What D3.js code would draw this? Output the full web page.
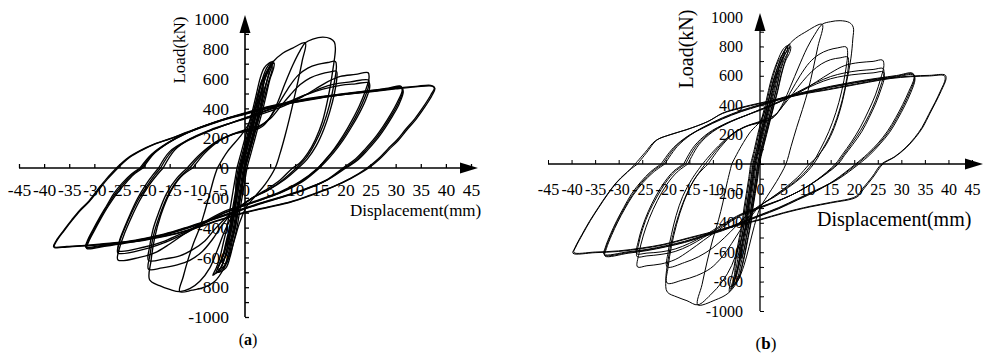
<!DOCTYPE html>
<html>
<head>
<meta charset="utf-8">
<script src="https://cdn.jsdelivr.net/npm/d3@7"></script>
<style>
  html, body { margin: 0; padding: 0; background: #fff; }
  svg { display: block; }
  svg text { font-family: "Liberation Serif", "Times New Roman", serif; fill: #000; }
</style>
</head>
<body>
<svg id="chart" width="985" height="355"></svg>
<script>
// ---- axis ticks ----
const xTickValues = [-45, -40, -35, -30, -25, -20, -15, -10, -5, 0, 5, 10, 15, 20, 25, 30, 35, 40, 45];
const yTickValues = [-1000, -800, -600, -400, -200, 0, 200, 400, 600, 800, 1000];
const yMinorValues = [-1000, -900, -800, -700, -600, -500, -400, -300, -200, -100, 0, 100, 200, 300, 400, 500, 600, 700, 800, 900];

// ---- specimen (a): load-displacement cycles, [displacement mm, load kN] ----
const aElastic1 = [[-1.1,0],[-0.3,100],[0.5,200],[1.3,300],[2.1,400],[2.8,500],[3.5,600],[4.3,670],[5.2,710],[5.6,715],[5.3,680],[4.5,600],[3.8,500],[3.1,400],[2.3,300],[1.5,200],[0.7,100],[-0.1,0],[-0.6,-100],[-1.1,-200],[-1.6,-300],[-2.1,-400],[-2.8,-500],[-3.5,-600],[-4.3,-670],[-5.8,-705],[-5.2,-660],[-4.5,-600],[-3.8,-500],[-3.1,-400],[-2.6,-300],[-2.1,-200],[-1.6,-100],[-1.1,0]];
const aElastic2 = [[-0.8,0],[0,100],[0.8,200],[1.6,300],[2.4,400],[3.1,500],[3.8,600],[4.6,660],[5.3,690],[5.4,660],[4.7,580],[4,490],[3.3,400],[2.5,300],[1.7,200],[0.9,100],[0.1,0],[-0.4,-100],[-0.9,-200],[-1.4,-300],[-1.9,-400],[-2.6,-500],[-3.3,-600],[-4.2,-660],[-5.5,-680],[-4.9,-630],[-4.2,-570],[-3.5,-480],[-2.8,-390],[-2.3,-300],[-1.8,-200],[-1.3,-100],[-0.8,0]];
const aElastic3 = [[-1.3,0],[-0.5,100],[0.3,200],[1.1,300],[1.9,400],[2.6,500],[3.4,590],[4.8,650],[4.4,590],[3.6,500],[2.9,400],[2.1,300],[1.3,200],[0.5,100],[-0.3,0],[-0.8,-100],[-1.3,-200],[-1.8,-300],[-2.3,-400],[-3,-500],[-3.8,-590],[-5,-640],[-4.2,-580],[-3.5,-490],[-2.8,-400],[-2.3,-300],[-1.8,-200],[-1.8,-100],[-1.3,0]];
const aElastic4 = [[-1,0],[-0.2,100],[0.6,200],[1.4,300],[2.2,400],[2.9,480],[3.6,540],[3.5,490],[3.2,400],[2.4,300],[1.6,200],[0.8,100],[0,0],[-0.5,-100],[-1,-200],[-1.5,-300],[-2,-400],[-2.7,-480],[-3.8,-520],[-3.3,-470],[-2.9,-400],[-2.4,-300],[-1.9,-200],[-1.5,-100],[-1,0]];
const aElastic5 = [[-0.9,0],[-0.1,100],[0.7,200],[1.5,290],[2.4,370],[2.5,330],[1.8,250],[1.1,150],[0.3,50],[-0.2,-50],[-0.7,-150],[-1.3,-250],[-2.6,-350],[-2.3,-290],[-1.9,-200],[-1.4,-100],[-0.9,0]];
const aElastic6 = [[-1.6,0],[-0.8,100],[0,200],[0.8,300],[1.6,400],[2.3,500],[3,600],[3.8,670],[4.8,705],[5.2,710],[4.9,680],[4,600],[3.3,500],[2.6,400],[1.8,300],[1,200],[0.2,100],[-0.6,0],[-1.1,-100],[-1.6,-200],[-2.1,-300],[-2.6,-400],[-3.3,-500],[-4,-600],[-4.8,-670],[-6.4,-720],[-5.7,-670],[-5,-600],[-4.3,-500],[-3.6,-400],[-3.1,-300],[-2.6,-200],[-2.1,-100],[-1.6,0]];
const aElastic7 = [[-0.6,0],[0.2,100],[1,200],[1.8,300],[2.6,400],[3.3,500],[4,600],[4.8,660],[5.5,700],[5.8,705],[5.7,670],[5,600],[4.3,500],[3.6,400],[2.8,300],[2,200],[1.2,100],[0.4,0],[-0.1,-100],[-0.6,-200],[-1.1,-300],[-1.6,-400],[-2.3,-500],[-3,-600],[-3.8,-670],[-5.3,-700],[-4.7,-660],[-4,-600],[-3.3,-500],[-2.6,-400],[-2.1,-300],[-1.6,-200],[-1.1,-100],[-0.6,0]];
const aCycle12 = [[-5.5,0],[-3.5,110],[-1,210],[0.8,300],[2,420],[3,540],[4.2,640],[5.5,710],[7.5,770],[9.5,805],[12,840],[11.4,720],[10.6,590],[9.8,470],[8.9,340],[8,220],[7,100],[6,0],[4,-110],[2,-190],[0.3,-260],[-1,-360],[-2,-470],[-3,-580],[-4.3,-680],[-6,-760],[-8.5,-805],[-10.5,-820],[-13,-830],[-12.3,-730],[-11.3,-610],[-10.2,-500],[-9,-400],[-8,-290],[-7,-170],[-6.2,-70],[-5.5,0]];
const aCycle18a = [[-10.4,0],[-8,100],[-5,185],[-2,230],[0,245],[2,255],[3.5,280],[5,340],[6.5,440],[8,570],[9.5,690],[11,790],[12,840],[13.5,865],[15.5,878],[17,868],[17.8,845],[18,800],[17.5,660],[16.6,480],[15.4,310],[14,190],[12.5,100],[10.8,30],[9.5,0],[7,-80],[4,-150],[1,-210],[-1,-260],[-2.5,-320],[-4,-420],[-5.5,-550],[-7,-670],[-9,-760],[-11,-810],[-13,-830],[-15,-815],[-17,-790],[-19,-750],[-18.7,-620],[-18,-470],[-16.8,-320],[-15,-170],[-12.8,-60],[-10.4,0]];
const aCycle18b = [[-11,0],[-8.5,95],[-5.5,180],[-2.5,225],[0,250],[2.5,270],[4.5,320],[6.5,420],[8.5,530],[10.5,620],[12.5,670],[14.5,695],[16.5,708],[18,715],[18.2,680],[17.7,560],[16.8,420],[15.6,290],[14,170],[12.2,70],[10.2,0],[7.5,-80],[4.5,-150],[1.5,-200],[-0.5,-250],[-2.5,-300],[-4.5,-380],[-6.5,-480],[-8.5,-560],[-11,-620],[-13.5,-650],[-16.5,-670],[-19.2,-680],[-18.9,-580],[-18.2,-450],[-17,-320],[-15.3,-180],[-13.2,-70],[-11,0]];
const aCycle18c = [[-11.5,0],[-9,90],[-6,170],[-3,220],[0,255],[3,285],[5,330],[7,410],[9,490],[11,560],[13,605],[15,630],[17,645],[18.2,650],[18.3,610],[17.8,500],[16.9,380],[15.7,260],[14.2,150],[12.4,60],[10.6,0],[8,-75],[5,-140],[2,-190],[0,-235],[-2,-280],[-4,-340],[-6,-410],[-8,-490],[-10.5,-550],[-13,-590],[-16,-610],[-19.2,-620],[-19,-530],[-18.3,-410],[-17.2,-300],[-15.6,-170],[-13.6,-70],[-11.5,0]];
const aCycle25a = [[-16.3,0],[-14,120],[-11,195],[-7,255],[-3,300],[0,330],[4,370],[8,420],[11,470],[14,530],[16.5,580],[19,615],[22,628],[24.5,640],[24.7,605],[24,520],[22.8,420],[21.3,320],[19.6,220],[17.8,130],[16,55],[14.5,0],[11,-90],[7,-160],[3,-210],[0,-245],[-4,-290],[-8,-360],[-12,-440],[-15,-510],[-18,-570],[-21,-600],[-25.3,-617],[-25,-540],[-24,-440],[-22.6,-330],[-21,-220],[-19.2,-120],[-17.5,-45],[-16.3,0]];
const aCycle25b = [[-16.8,0],[-14.5,115],[-11,190],[-7,250],[-3,300],[0,335],[4,380],[8,430],[12,490],[15,535],[18,565],[21,578],[24.6,590],[24.6,550],[23.8,470],[22.6,380],[21,280],[19.3,190],[17.5,110],[15.8,45],[14.6,0],[11,-95],[7,-165],[3,-215],[0,-250],[-4,-300],[-8,-370],[-12,-440],[-16,-500],[-20,-545],[-25.3,-570],[-25,-500],[-24,-410],[-22.7,-310],[-21.2,-210],[-19.5,-120],[-17.9,-45],[-16.8,0]];
const aCycle25c = [[-17.2,0],[-15,110],[-11.5,185],[-7.5,245],[-3.5,295],[0,335],[4,385],[8,435],[12,490],[15.5,530],[19,555],[22,565],[24.7,572],[24.8,535],[24,455],[22.8,370],[21.2,275],[19.5,185],[17.7,105],[16,40],[14.8,0],[11.5,-90],[7.5,-160],[3.5,-210],[0,-250],[-4,-300],[-8,-365],[-12,-430],[-16,-490],[-20,-530],[-25.2,-555],[-25,-490],[-24,-400],[-22.8,-305],[-21.4,-205],[-19.8,-115],[-18.3,-45],[-17.2,0]];
const aCycle31a = [[-20.3,0],[-18,100],[-15,175],[-12,230],[-8,285],[-4,330],[0,365],[5,410],[10,445],[15,475],[20,500],[25,520],[28.5,535],[31,550],[31.3,520],[30.3,440],[29,360],[27.5,280],[25.8,200],[24,130],[22,60],[19.5,0],[16,-85],[12,-145],[8,-190],[4,-230],[0,-275],[-4,-320],[-8,-365],[-12,-410],[-16,-450],[-20,-480],[-24,-505],[-28,-525],[-31.5,-540],[-31.2,-500],[-30,-420],[-28.7,-340],[-27.3,-260],[-25.7,-180],[-24,-110],[-22.2,-45],[-20.3,0]];
const aCycle31b = [[-20.6,0],[-18.3,95],[-15.2,170],[-12,228],[-8,283],[-4,328],[0,363],[5,407],[10,442],[15,472],[20,497],[25,518],[28.5,532],[31.1,545],[31.4,515],[30.5,435],[29.2,355],[27.7,275],[26,195],[24.2,125],[22.2,55],[19.8,0],[16.2,-83],[12,-143],[8,-188],[4,-228],[0,-272],[-4,-317],[-8,-362],[-12,-406],[-16,-446],[-20,-476],[-24,-500],[-28,-520],[-31.6,-535],[-31.3,-495],[-30.1,-415],[-28.8,-335],[-27.4,-255],[-25.9,-175],[-24.2,-105],[-22.4,-42],[-20.6,0]];
const aCycle31c = [[-20.9,0],[-18.6,92],[-15.5,167],[-12.3,224],[-8,280],[-4,325],[0,360],[5,404],[10,440],[15,470],[20,494],[25,515],[28.5,529],[31.2,540],[31.5,510],[30.7,430],[29.4,350],[27.9,270],[26.2,190],[24.4,120],[22.4,52],[20.1,0],[16.4,-80],[12,-140],[8,-185],[4,-225],[0,-268],[-4,-313],[-8,-358],[-12,-402],[-16,-442],[-20,-472],[-24,-496],[-28,-516],[-31.7,-530],[-31.4,-490],[-30.2,-410],[-28.9,-330],[-27.5,-250],[-26.1,-170],[-24.4,-100],[-22.6,-40],[-20.9,0]];
const aCycle37a = [[-25.3,0],[-23,70],[-20.5,120],[-18,160],[-15,195],[-12,235],[-8,285],[-4,330],[0,370],[5,415],[10,450],[15,478],[20,498],[25,515],[30,535],[34,548],[37,555],[37.7,540],[37,490],[35.5,410],[33.8,330],[32,260],[30.3,190],[28.5,130],[26.5,60],[24.3,0],[21,-70],[17.5,-127],[13,-185],[9,-230],[4.5,-265],[0,-300],[-4.5,-345],[-9,-395],[-13,-435],[-17,-465],[-21,-490],[-25.3,-503],[-29,-515],[-32.5,-524],[-35.5,-530],[-38,-532],[-37.5,-490],[-36,-420],[-34.4,-350],[-32.8,-285],[-31,-225],[-29.2,-150],[-27.4,-75],[-25.3,0]];
const aCycle37b = [[-25.6,0],[-23.3,68],[-20.8,118],[-18.2,158],[-15.2,193],[-12,232],[-8,282],[-4,327],[0,366],[5,411],[10,446],[15,474],[20,494],[25,512],[30,531],[34,544],[37.2,550],[37.8,535],[37.2,485],[35.7,405],[34,325],[32.2,255],[30.5,185],[28.7,125],[26.7,57],[24.6,0],[21.2,-68],[17.7,-124],[13,-182],[9,-227],[4.5,-262],[0,-297],[-4.5,-342],[-9,-392],[-13,-432],[-17,-462],[-21,-487],[-25.3,-500],[-29,-512],[-32.5,-521],[-35.5,-527],[-38.1,-528],[-37.6,-488],[-36.1,-418],[-34.5,-348],[-32.9,-283],[-31.1,-223],[-29.4,-148],[-27.6,-73],[-25.6,0]];

// ---- specimen (b): load-displacement cycles, [displacement mm, load kN] ----
const bElastic1 = [[-1.5,0],[-0.7,100],[0,200],[0.8,300],[1.6,400],[2.3,500],[3.1,600],[4.2,700],[5.5,790],[6.3,815],[6.2,780],[5,700],[4.1,600],[3.4,500],[2.6,400],[1.8,300],[1,200],[0.2,100],[-0.5,0],[-0.9,-100],[-1.4,-200],[-1.9,-300],[-2.3,-400],[-2.9,-500],[-3.5,-600],[-4.2,-700],[-4.9,-790],[-6.2,-850],[-5.8,-800],[-5,-700],[-4.5,-600],[-3.9,-500],[-3.3,-400],[-2.9,-300],[-2.4,-200],[-1.9,-100],[-1.5,0]];
const bElastic2 = [[-1.2,0],[-0.4,100],[0.3,200],[1.1,300],[1.9,400],[2.6,500],[3.4,600],[4.5,700],[5.8,800],[5.9,760],[5.3,700],[4.4,600],[3.7,500],[2.9,400],[2.1,300],[1.3,200],[0.5,100],[-0.2,0],[-0.6,-100],[-1.1,-200],[-1.6,-300],[-2,-400],[-2.6,-500],[-3.2,-600],[-3.9,-700],[-4.6,-780],[-5.8,-830],[-5.4,-780],[-4.7,-700],[-4.2,-600],[-3.6,-500],[-3,-400],[-2.6,-300],[-2.1,-200],[-1.6,-100],[-1.2,0]];
const bElastic3 = [[-1.8,0],[-1,100],[-0.3,200],[0.5,300],[1.3,400],[2,500],[2.8,600],[3.9,700],[5.2,760],[4.8,700],[3.8,600],[3.1,500],[2.3,400],[1.5,300],[0.7,200],[-0.1,100],[-0.8,0],[-1.2,-100],[-1.7,-200],[-2.2,-300],[-2.6,-400],[-3.2,-500],[-3.8,-600],[-4.5,-700],[-5.2,-780],[-5.3,-700],[-4.8,-600],[-4.2,-500],[-3.6,-400],[-3.2,-300],[-2.7,-200],[-2.2,-100],[-1.8,0]];
const bElastic4 = [[-1.5,0],[-0.7,100],[0,200],[0.8,300],[1.6,400],[2.3,500],[3.1,590],[4,630],[3.9,580],[3.4,500],[2.6,400],[1.8,300],[1,200],[0.2,100],[-0.5,0],[-0.9,-100],[-1.4,-200],[-1.9,-300],[-2.3,-400],[-2.9,-500],[-3.5,-600],[-4.2,-650],[-4.3,-590],[-3.9,-500],[-3.3,-400],[-2.9,-300],[-2.4,-200],[-1.9,-100],[-1.5,0]];
const bElastic5 = [[-1.3,0],[-0.5,100],[0.2,200],[1,300],[1.8,390],[2.6,420],[2.6,370],[2,300],[1.2,200],[0.4,100],[-0.3,0],[-0.7,-100],[-1.2,-200],[-1.7,-300],[-2.2,-390],[-2.9,-440],[-3,-380],[-2.7,-300],[-2.2,-200],[-1.7,-100],[-1.3,0]];
const bElastic6 = [[-2,0],[-1.2,100],[-0.5,200],[0.3,300],[1.1,400],[1.8,500],[2.6,600],[3.7,700],[5,785],[5.9,805],[5.7,770],[4.5,700],[3.6,600],[2.9,500],[2.1,400],[1.3,300],[0.5,200],[-0.3,100],[-1,0],[-1.4,-100],[-1.9,-200],[-2.4,-300],[-2.8,-400],[-3.4,-500],[-4,-600],[-4.7,-700],[-5.4,-790],[-6.5,-870],[-6.3,-800],[-5.5,-700],[-5,-600],[-4.4,-500],[-3.8,-400],[-3.4,-300],[-2.9,-200],[-2.4,-100],[-2,0]];
const bElastic7 = [[-1.1,0],[-0.3,100],[0.4,200],[1.2,300],[2,400],[2.7,500],[3.5,600],[4.6,700],[5.9,780],[6.5,800],[6.4,765],[5.4,700],[4.5,600],[3.8,500],[3,400],[2.2,300],[1.4,200],[0.6,100],[-0.1,0],[-0.5,-100],[-1,-200],[-1.5,-300],[-1.9,-400],[-2.5,-500],[-3.1,-600],[-3.8,-700],[-4.5,-780],[-5.5,-820],[-5.2,-770],[-4.6,-700],[-4.1,-600],[-3.5,-500],[-2.9,-400],[-2.5,-300],[-2,-200],[-1.5,-100],[-1.1,0]];
const bCycle12 = [[-6,0],[-4,120],[-2,220],[0,290],[1.5,400],[2.7,540],[3.8,660],[5,760],[7,840],[9.5,895],[13.2,950],[12.3,800],[11.3,650],[10.2,500],[9,370],[7.8,250],[6.6,120],[5.5,0],[3.5,-120],[1.5,-220],[0,-300],[-1.2,-420],[-2.3,-560],[-3.4,-690],[-4.8,-800],[-6.8,-880],[-9.5,-925],[-13.2,-958],[-12.3,-820],[-11.2,-660],[-10,-510],[-8.8,-380],[-7.9,-265],[-7,-130],[-6,0]];
const bCycle18a = [[-11,0],[-8.5,110],[-5.5,210],[-2.5,260],[0,280],[2,300],[3.5,340],[5,420],[6.5,530],[8.2,660],[10,790],[11.6,880],[13.2,950],[15,968],[17,975],[19,962],[19.8,930],[19.7,850],[19.3,720],[18.4,560],[17.3,400],[15.8,250],[14,130],[12,45],[10.5,0],[8,-90],[5,-170],[2,-240],[0,-285],[-1.5,-340],[-3,-430],[-4.5,-560],[-6,-690],[-8,-800],[-10.5,-890],[-13.2,-958],[-15.5,-930],[-17.6,-905],[-19.7,-870],[-20,-790],[-19.5,-650],[-18.6,-500],[-17.3,-350],[-15.5,-200],[-13.4,-80],[-11,0]];
const bCycle18b = [[-11.6,0],[-9,105],[-6,200],[-3,255],[0,285],[2.5,310],[4.5,380],[6.5,490],[8.5,600],[10.5,690],[12.5,745],[14.5,775],[16.5,790],[18.3,796],[18.6,760],[18.2,640],[17.3,490],[16.1,350],[14.6,220],[12.8,100],[11,0],[8.5,-90],[5.5,-165],[2.5,-230],[0,-285],[-2,-345],[-4,-440],[-6,-540],[-8,-630],[-10.5,-710],[-13.5,-760],[-16.5,-790],[-19.7,-810],[-19.5,-700],[-18.8,-560],[-17.7,-410],[-16.2,-260],[-14.2,-120],[-11.6,0]];
const bCycle18c = [[-12.2,0],[-9.5,100],[-6.5,190],[-3.5,250],[0,290],[3,330],[5,400],[7,480],[9,560],[11,630],[13,680],[15,710],[17,722],[18.6,728],[18.8,690],[18.4,580],[17.5,440],[16.3,310],[14.8,190],[13,85],[11.4,0],[9,-85],[6,-160],[3,-225],[0,-280],[-2.5,-340],[-5,-420],[-7.5,-500],[-10,-570],[-13,-630],[-16,-670],[-19.7,-700],[-19.5,-600],[-18.8,-480],[-17.8,-350],[-16.4,-220],[-14.5,-105],[-12.2,0]];
const bCycle25a = [[-15.3,0],[-13,130],[-10,220],[-6,290],[-3,330],[0,370],[4,420],[8,480],[12,560],[15,620],[18,670],[21,690],[24,698],[26,707],[26.3,670],[25.6,580],[24.5,470],[23,360],[21.3,250],[19.4,150],[17.5,65],[16,0],[12,-110],[8,-190],[4,-250],[0,-300],[-4,-350],[-8,-430],[-12,-520],[-15,-590],[-18,-650],[-21,-680],[-24,-692],[-26,-700],[-25.7,-610],[-24.8,-490],[-23.5,-370],[-21.8,-250],[-19.8,-140],[-17.6,-55],[-15.3,0]];
const bCycle25b = [[-15.8,0],[-13.5,125],[-10.5,215],[-6.5,285],[-3,330],[0,370],[4,425],[8,490],[12,555],[15,595],[18,620],[21,635],[24,643],[26.1,650],[26.3,615],[25.6,530],[24.5,430],[23.1,330],[21.4,230],[19.5,140],[17.7,60],[16.3,0],[12.3,-105],[8.3,-185],[4.3,-245],[0,-295],[-4,-345],[-8,-420],[-12,-500],[-15,-555],[-18,-595],[-21,-615],[-24,-625],[-26.1,-630],[-25.8,-550],[-24.9,-440],[-23.6,-330],[-21.9,-225],[-20,-125],[-18,-50],[-15.8,0]];
const bCycle25c = [[-16.2,0],[-14,120],[-11,210],[-7,280],[-3.5,325],[0,365],[4,420],[8,485],[12,545],[15,580],[18,600],[21,612],[24,620],[26.2,626],[26.4,590],[25.7,510],[24.6,415],[23.2,318],[21.6,220],[19.7,133],[17.9,57],[16.6,0],[12.6,-100],[8.6,-180],[4.6,-240],[0,-292],[-4,-340],[-8,-412],[-12,-490],[-15,-540],[-18,-578],[-21,-598],[-24,-606],[-26.2,-610],[-25.9,-535],[-25,-430],[-23.7,-322],[-22.1,-218],[-20.2,-120],[-18.3,-48],[-16.2,0]];
const bCycle32a = [[-20.6,0],[-18,115],[-15,195],[-12,250],[-8,310],[-4,360],[0,400],[5,450],[10,490],[15,525],[20,555],[25,580],[29,598],[32.5,612],[32.8,580],[31.8,490],[30.5,400],[29,310],[27.3,220],[25.3,140],[23,65],[20.6,0],[16,-110],[12,-180],[8,-240],[4,-300],[0,-350],[-4,-400],[-8,-450],[-12,-490],[-16,-530],[-20,-560],[-24,-585],[-28,-602],[-33,-620],[-32.7,-570],[-31.6,-480],[-30.3,-390],[-28.8,-300],[-27.1,-210],[-25.1,-125],[-23,-55],[-20.6,0]];
const bCycle32b = [[-21,0],[-18.4,110],[-15.3,190],[-12,246],[-8,306],[-4,356],[0,396],[5,446],[10,486],[15,521],[20,551],[25,576],[29,593],[32.6,606],[32.9,575],[32,485],[30.7,395],[29.2,305],[27.5,215],[25.5,137],[23.3,62],[21,0],[16.4,-107],[12,-176],[8,-236],[4,-296],[0,-346],[-4,-396],[-8,-446],[-12,-486],[-16,-526],[-20,-556],[-24,-581],[-28,-597],[-33.1,-614],[-32.8,-565],[-31.7,-475],[-30.4,-385],[-28.9,-295],[-27.3,-205],[-25.3,-122],[-23.2,-52],[-21,0]];
const bCycle32c = [[-20.2,0],[-17.6,118],[-14.7,198],[-11.8,254],[-8,314],[-4,364],[0,404],[5,454],[10,494],[15,529],[20,559],[25,584],[29,602],[32.4,618],[32.7,585],[31.6,495],[30.3,405],[28.8,315],[27.1,225],[25.1,143],[22.8,68],[20.3,0],[15.7,-113],[12,-184],[8,-244],[4,-304],[0,-354],[-4,-404],[-8,-454],[-12,-494],[-16,-534],[-20,-564],[-24,-589],[-28,-607],[-32.9,-626],[-32.6,-575],[-31.5,-485],[-30.2,-395],[-28.7,-305],[-27,-215],[-24.9,-128],[-22.7,-58],[-20.2,0]];
const bCycle39a = [[-26,0],[-24,80],[-21.9,163],[-19,200],[-15.5,235],[-11,290],[-7.9,347],[-4,385],[0,415],[5,450],[10,485],[13.4,503],[18,530],[23,560],[27.6,585],[32,598],[36,603],[39.3,605],[39.5,580],[38.5,500],[37.3,420],[36,340],[34.6,252],[33,180],[31,110],[28.7,50],[26.1,0],[24,-90],[22,-170],[20.6,-224],[15,-265],[10.6,-292],[5,-335],[0,-381],[-5,-420],[-10.6,-469],[-15,-505],[-20.6,-551],[-25,-575],[-30,-595],[-35,-603],[-39.7,-607],[-39.3,-570],[-37.8,-480],[-36.2,-390],[-34.4,-300],[-32.5,-210],[-30.6,-130],[-28.4,-60],[-26,0]];
const bCycle39b = [[-26.5,0],[-24.4,78],[-22.2,158],[-19.3,197],[-15.7,232],[-11.2,287],[-8,343],[-4,381],[0,411],[5,446],[10,481],[13.4,499],[18,526],[23,556],[27.6,581],[32,594],[36,599],[39.1,601],[39.3,576],[38.3,496],[37.1,416],[35.8,336],[34.4,250],[32.8,178],[30.8,108],[28.5,48],[25.8,0],[23.8,-88],[21.8,-166],[20.4,-220],[15,-261],[10.6,-288],[5,-331],[0,-377],[-5,-416],[-10.6,-465],[-15,-501],[-20.6,-547],[-25,-571],[-30,-591],[-35,-599],[-39.5,-602],[-39.1,-565],[-37.6,-475],[-36,-385],[-34.2,-295],[-32.3,-205],[-30.4,-125],[-28.2,-57],[-26.5,0]];

const cyclesA = [aElastic1, aElastic2, aElastic3, aElastic4, aElastic5, aElastic6, aElastic7, aCycle12,
                 aCycle18a, aCycle18b, aCycle18c, aCycle25a, aCycle25b, aCycle25c,
                 aCycle31a, aCycle31b, aCycle31c, aCycle37a, aCycle37b];
const cyclesB = [bElastic1, bElastic2, bElastic3, bElastic4, bElastic5, bElastic6, bElastic7, bCycle12,
                 bCycle18a, bCycle18b, bCycle18c, bCycle25a, bCycle25b, bCycle25c,
                 bCycle32a, bCycle32b, bCycle32c, bCycle39a, bCycle39b];

const svg = d3.select("#chart");
const serif = "Liberation Serif";

// Panel layout: pixel ranges, fonts and stroke weights
const panels = [
  { cycles: cyclesA, xr: [19, 471], yr: [317, 19], xTip: 478, yTip: 15,
    tickFont: 17.5, titleFont: 17, tickPadY: 28, tickPadX: 16, axisW: 1.6, curveW: 1.35,
    xTitle: [350, 216], yTitle: [185, 50], caption: "a", capPos: [248, 345], capFont: 16 },
  { cycles: cyclesB, xr: [548, 972], yr: [311, 17], xTip: 983, yTip: 13,
    tickFont: 16, titleFont: 20, tickPadY: 31, tickPadX: 17, axisW: 1.3, curveW: 1.0,
    xTitle: [817, 226], yTitle: [693, 49], caption: "b", capPos: [766, 349], capFont: 17 }
];

panels.forEach(p => {
  const g = svg.append("g");
  const x = d3.scaleLinear().domain([-45, 45]).range(p.xr);
  const y = d3.scaleLinear().domain([-1000, 1000]).range(p.yr);
  const x0 = x(0), y0 = y(0);

  // horizontal axis with upward ticks
  const xAxis = d3.axisBottom(x).tickValues(xTickValues).tickSizeInner(-4).tickSizeOuter(0)
    .tickFormat(d => String(d));
  const gx = g.append("g").attr("transform", `translate(0,${y0})`).call(xAxis);
  gx.select(".domain").remove();
  gx.attr("font-family", serif).attr("font-size", p.tickFont);
  gx.selectAll(".tick line").attr("stroke", "#000").attr("stroke-width", p.axisW * 0.8);
  gx.selectAll(".tick text").attr("y", p.tickPadY).attr("dy", null).attr("fill", "#000");

  // vertical axis: minor ticks every 100, labels every 200
  const yMinor = d3.axisLeft(y).tickValues(yMinorValues).tickSizeInner(-4).tickSizeOuter(0).tickFormat(() => "");
  const gyMinor = g.append("g").attr("transform", `translate(${x0},0)`).call(yMinor);
  gyMinor.select(".domain").remove();
  gyMinor.selectAll(".tick line").attr("stroke", "#000").attr("stroke-width", p.axisW * 0.8);

  const yAxis = d3.axisLeft(y).tickValues(yTickValues).tickSize(0).tickPadding(p.tickPadX)
    .tickFormat(d => String(d));
  const gy = g.append("g").attr("transform", `translate(${x0},0)`).call(yAxis);
  gy.select(".domain").remove();
  gy.attr("font-family", serif).attr("font-size", p.tickFont);
  gy.selectAll(".tick text").attr("fill", "#000");

  // axis lines and arrowheads
  g.append("line").attr("x1", x(-45)).attr("x2", p.xTip - 4).attr("y1", y0).attr("y2", y0)
    .attr("stroke", "#000").attr("stroke-width", p.axisW);
  g.append("line").attr("x1", x0).attr("x2", x0).attr("y1", y(-1000)).attr("y2", p.yTip + 4)
    .attr("stroke", "#000").attr("stroke-width", p.axisW);
  g.append("path")
    .attr("d", `M${p.xTip},${y0}L${p.xTip - 18},${y0 - 5.5}L${p.xTip - 18},${y0 + 5.5}Z`)
    .attr("fill", "#000");
  g.append("path")
    .attr("d", `M${x0},${p.yTip}L${x0 - 5.5},${p.yTip + 18}L${x0 + 5.5},${p.yTip + 18}Z`)
    .attr("fill", "#000");

  // hysteresis cycles
  const line = d3.line().x(d => x(d[0])).y(d => y(d[1])).curve(d3.curveCatmullRom.alpha(0.5));
  g.append("g").selectAll("path").data(p.cycles).join("path")
    .attr("d", line)
    .attr("fill", "none")
    .attr("stroke", "#000")
    .attr("stroke-width", p.curveW)
    .attr("stroke-linejoin", "round");

  // axis titles
  g.append("text").attr("x", p.xTitle[0]).attr("y", p.xTitle[1])
    .attr("font-size", p.titleFont).text("Displacement(mm)");
  g.append("text").attr("transform", `translate(${p.yTitle[0]},${p.yTitle[1]}) rotate(-90)`)
    .attr("text-anchor", "middle").attr("font-size", p.titleFont)
    .text("Load(kN)");

  // panel caption
  const cap = g.append("text").attr("x", p.capPos[0]).attr("y", p.capPos[1])
    .attr("text-anchor", "middle").attr("font-size", p.capFont);
  cap.append("tspan").text("(");
  cap.append("tspan").attr("font-weight", "bold").text(p.caption);
  cap.append("tspan").text(")");
});
</script>
</body>
</html>
